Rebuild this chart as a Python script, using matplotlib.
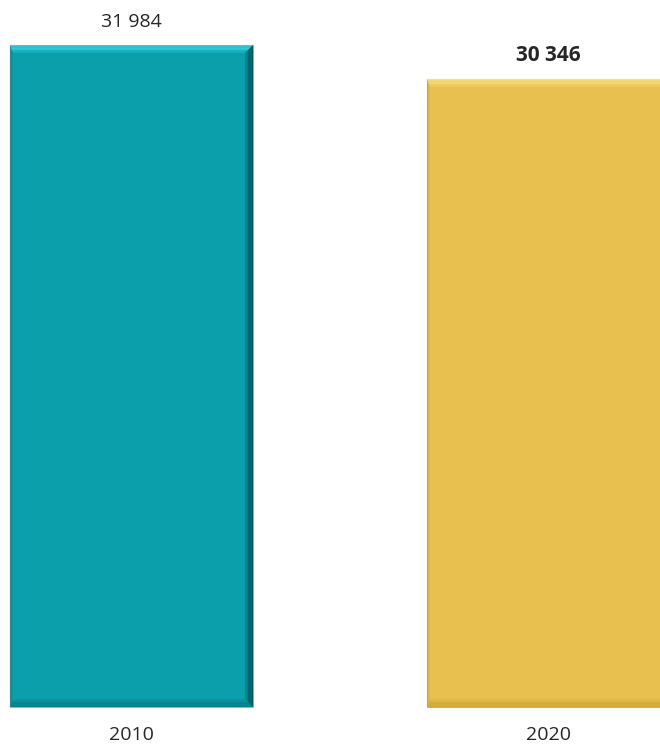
import matplotlib.pyplot as plt
from matplotlib.colors import to_rgb
from matplotlib.patches import Polygon

years = ["2010", "2020"]
values = [31984, 30346]
value_labels = ["31 984", "30 346"]
bold_label = [False, True]

face = ["#0b9eab", "#e8c04f"]
light = ["#35d0de", "#f8e07c"]
dark = ["#05555d", "#a9852a"]
mid = ["#077f8a", "#cfa63a"]

plt.rcParams['font.family'] = ['Open Sans', 'DejaVu Sans']


def blend(c1, c2, t):
    a, b = to_rgb(c1), to_rgb(c2)
    return tuple(a[k] + (b[k] - a[k]) * t for k in range(3))


fig = plt.figure(figsize=(6.6, 7.44), dpi=100)
ax = fig.add_axes([0, 0, 1, 1])
ax.set_xlim(-0.3153, 1.2674)
ax.set_ylim(-1788, 34158)
ax.axis('off')

width = 0.583
x = list(range(len(years)))
bars = ax.bar(x, values, width=width, color=face, edgecolor="#a8a8a8", linewidth=0.6, zorder=2)

# soft bevel edges, drawn as thin bands fading into the face colour
bx = 8 / 417
by = 8 / 20.7 * 1000
steps = 6
for i, b in enumerate(bars):
    x0, y0 = b.get_x(), b.get_y()
    x1, y1 = x0 + b.get_width(), y0 + b.get_height()
    for s in range(steps):
        t0, t1 = s / steps, (s + 1) / steps
        f = t0 ** 2
        c_top = blend(light[i], face[i], f)
        c_right = blend(dark[i], face[i], f)
        c_bot = blend(mid[i], face[i], f)
        lx0, lx1 = bx * 0.35 * t0, bx * 0.35 * t1
        top = [(x0 + lx0, y1 - by * t0), (x1 - bx * t0, y1 - by * t0),
               (x1 - bx * t1, y1 - by * t1), (x0 + lx1, y1 - by * t1)]
        right = [(x1 - bx * t0, y1 - by * t0), (x1 - bx * t0, y0 + by * t0),
                 (x1 - bx * t1, y0 + by * t1), (x1 - bx * t1, y1 - by * t1)]
        bottom = [(x0 + lx0, y0 + by * t0), (x1 - bx * t0, y0 + by * t0),
                  (x1 - bx * t1, y0 + by * t1), (x0 + lx1, y0 + by * t1)]
        left = [(x0 + lx0, y0 + by * t0), (x0 + lx0, y1 - by * t0),
                (x0 + lx1, y1 - by * t1), (x0 + lx1, y0 + by * t1)]
        for poly, c in ((top, c_top), (right, c_right), (bottom, c_bot), (left, c_bot)):
            ax.add_patch(Polygon(poly, closed=True, color=c, lw=0, zorder=3))

for i in x:
    ax.text(i, values[i] + 1130, value_labels[i], ha='center', va='center',
            fontsize=15 if bold_label[i] else 14, color="#262626",
            fontweight='bold' if bold_label[i] else 'normal')
    ax.text(i, -1360, years[i], ha='center', va='center', fontsize=14, color="#262626")

plt.savefig("out.png", dpi=100)
